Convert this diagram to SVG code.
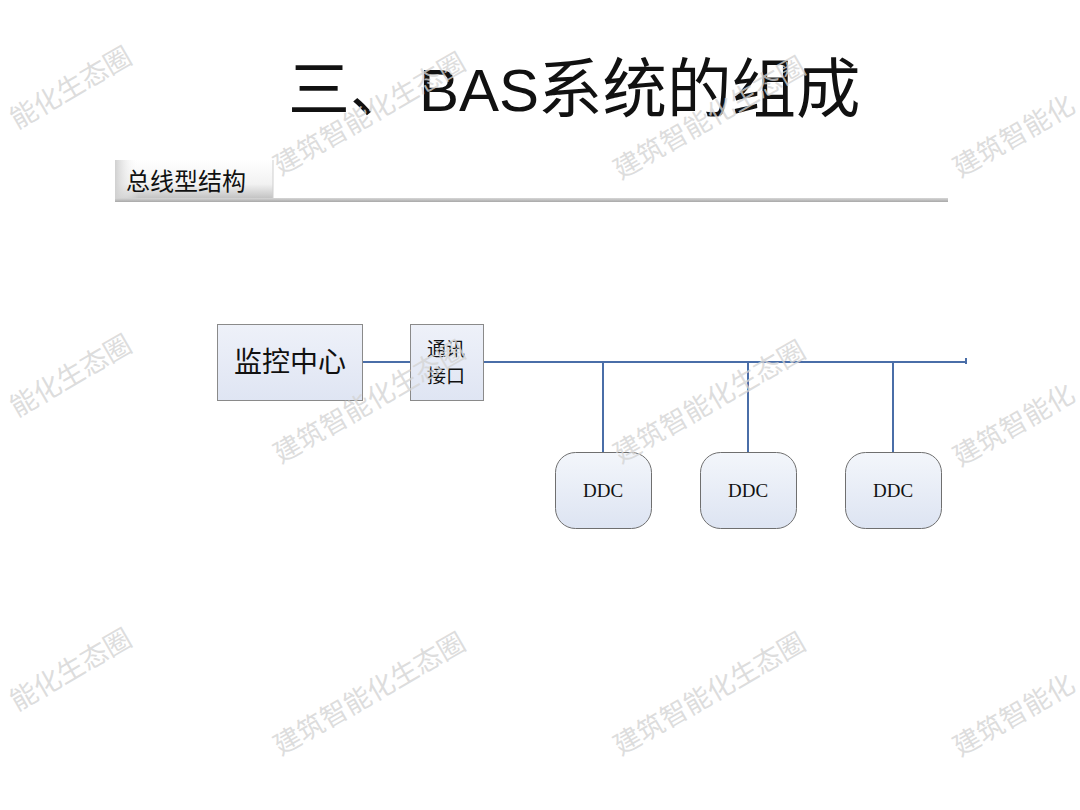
<svg xmlns="http://www.w3.org/2000/svg" width="1080" height="810" viewBox="0 0 1080 810">
<defs>
<linearGradient id="tabGrad" x1="0" y1="0" x2="0" y2="1">
<stop offset="0" stop-color="#ffffff"/>
<stop offset="0.6" stop-color="#f2f2f2"/>
<stop offset="1" stop-color="#bdbdbd"/>
</linearGradient>
<linearGradient id="tabSide" x1="0" y1="0" x2="1" y2="0">
<stop offset="0" stop-color="#d0d0d0"/>
<stop offset="0.15" stop-color="#ffffff" stop-opacity="0"/>
</linearGradient>
<linearGradient id="boxGrad" x1="0" y1="0" x2="0" y2="1">
<stop offset="0" stop-color="#eef1f9"/>
<stop offset="1" stop-color="#dfe5f3"/>
</linearGradient>
<linearGradient id="ddcGrad" x1="0" y1="0" x2="0" y2="1">
<stop offset="0" stop-color="#f3f6fb"/>
<stop offset="1" stop-color="#dde4f2"/>
</linearGradient>
<linearGradient id="barGrad" x1="0" y1="0" x2="0" y2="1">
<stop offset="0" stop-color="#d6d6d6"/>
<stop offset="1" stop-color="#a8a8a8"/>
</linearGradient>
</defs>
<style>
.wm { font-family: "Noto Sans CJK SC", sans-serif; font-size: 27px; fill: #d4d4d4; fill-opacity: 0.8; }
.conn { stroke: #4a6ea8; stroke-width: 2; fill: none; }
.box { fill: url(#boxGrad); stroke: #8a8a8a; stroke-width: 1; }
.ddc { fill: url(#ddcGrad); stroke: #6f6f6f; stroke-width: 1; }
.cn { font-family: "Noto Sans CJK SC", sans-serif; fill: #111; }
.ser { font-family: "Liberation Serif", serif; fill: #111; }
</style>
<rect width="1080" height="810" fill="#ffffff"/>

<g id="title">
<text x="288" y="112" font-size="62" class="cn">三、</text>
<text x="419" y="111" font-size="60" font-family="Liberation Sans, sans-serif" fill="#111">BAS</text>
<text x="538" y="112" font-size="64.5" class="cn">系统的组成</text>
</g>

<g id="header">
<rect x="115" y="160" width="158" height="40" fill="url(#tabGrad)"/>
<rect x="115" y="160" width="158" height="40" fill="url(#tabSide)"/>
<line x1="273" y1="160" x2="273" y2="200" stroke="#cfcfcf" stroke-width="1"/>
<rect x="115" y="198" width="833" height="4" fill="url(#barGrad)"/>
<text x="126" y="190" font-size="24" class="cn">总线型结构</text>
</g>

<g id="connectors">
<line class="conn" x1="362" y1="362" x2="410" y2="362"/>
<line class="conn" x1="483" y1="362" x2="966" y2="362"/>
<line class="conn" x1="966" y1="358" x2="966" y2="364" stroke-width="1.5"/>
<line class="conn" x1="603" y1="362" x2="603" y2="453"/>
<line class="conn" x1="748" y1="362" x2="748" y2="453"/>
<line class="conn" x1="893" y1="362" x2="893" y2="453"/>
</g>

<g id="monitor-center">
<rect class="box" x="217.5" y="324.5" width="145" height="76"/>
<text x="290" y="372" font-size="28" text-anchor="middle" class="cn">监控中心</text>
</g>

<g id="comm-interface">
<rect class="box" x="410.5" y="324.5" width="73" height="76"/>
<text x="446" y="356" font-size="19" text-anchor="middle" class="cn">通讯</text>
<text x="446" y="383" font-size="19" text-anchor="middle" class="cn">接口</text>
</g>

<g id="ddc1">
<rect class="ddc" x="555.5" y="452.5" width="96" height="76" rx="20"/>
<text x="603" y="497" font-size="19" text-anchor="middle" class="ser">DDC</text>
</g>
<g id="ddc2">
<rect class="ddc" x="700.5" y="452.5" width="96" height="76" rx="20"/>
<text x="748" y="497" font-size="19" text-anchor="middle" class="ser">DDC</text>
</g>
<g id="ddc3">
<rect class="ddc" x="845.5" y="452.5" width="96" height="76" rx="20"/>
<text x="893" y="497" font-size="19" text-anchor="middle" class="ser">DDC</text>
</g>

<g id="watermarks">
<text class="wm" text-anchor="end" transform="translate(134,62) rotate(-30)">能化生态圈</text>
<text class="wm" text-anchor="middle" transform="translate(374,122) rotate(-30)">建筑智能化生态圈</text>
<text class="wm" text-anchor="middle" transform="translate(714,126) rotate(-30)">建筑智能化生态圈</text>
<text class="wm" text-anchor="start" transform="translate(960,178) rotate(-30)">建筑智能化</text>
<text class="wm" text-anchor="end" transform="translate(134,350) rotate(-30)">能化生态圈</text>
<text class="wm" text-anchor="middle" transform="translate(374,410) rotate(-30)">建筑智能化生态圈</text>
<text class="wm" text-anchor="middle" transform="translate(714,410) rotate(-30)">建筑智能化生态圈</text>
<text class="wm" text-anchor="start" transform="translate(960,467) rotate(-30)">建筑智能化</text>
<text class="wm" text-anchor="end" transform="translate(134,644) rotate(-30)">能化生态圈</text>
<text class="wm" text-anchor="middle" transform="translate(374,702) rotate(-30)">建筑智能化生态圈</text>
<text class="wm" text-anchor="middle" transform="translate(714,702) rotate(-30)">建筑智能化生态圈</text>
<text class="wm" text-anchor="start" transform="translate(960,757) rotate(-30)">建筑智能化</text>
</g>
</svg>
